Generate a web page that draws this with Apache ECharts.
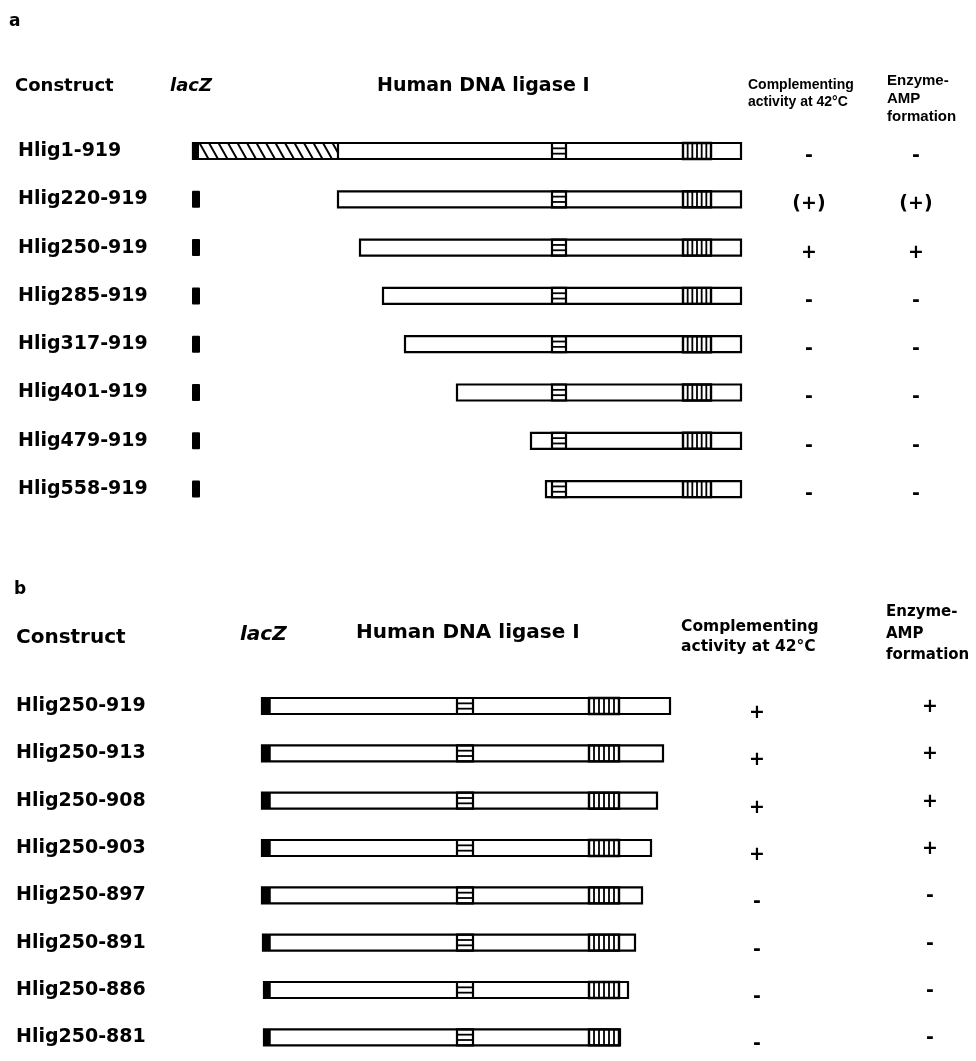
<!DOCTYPE html>
<html><head><meta charset="utf-8">
<script src="https://cdn.jsdelivr.net/npm/echarts@6/dist/echarts.min.js"></script>
<style>html,body{margin:0;padding:0;background:#fff}#c{width:976px;height:1061px}</style>
</head><body><div id="c"></div>
<script>
// ---------- Panel a data (schematic positions) ----------
const constructsA = ['Hlig1-919','Hlig220-919','Hlig250-919','Hlig285-919','Hlig317-919','Hlig401-919','Hlig479-919','Hlig558-919'];
const barStartA = [193, 338, 360, 383, 405, 457, 531, 546];
const barEndA   = [741, 741, 741, 741, 741, 741, 741, 741];
const complementA = ['-', '(+)', '+', '-', '-', '-', '-', '-'];
const enzymeAmpA  = ['-', '(+)', '+', '-', '-', '-', '-', '-'];
const lacZA = [192, 200];        // separate lacZ block
const hatchEndA = 338;           // hatched N-terminal region of Hlig1-919
const eBoxA = [552, 566];
const stripeBoxA = [683, 711];

// ---------- Panel b data ----------
const constructsB = ['Hlig250-919','Hlig250-913','Hlig250-908','Hlig250-903','Hlig250-897','Hlig250-891','Hlig250-886','Hlig250-881'];
const barStartB = [262, 262, 262, 262, 262, 263, 264, 264];
const barEndB   = [670, 663, 657, 651, 642, 635, 628, 620];
const complementB = ['+', '+', '+', '+', '-', '-', '-', '-'];
const enzymeAmpB  = ['+', '+', '+', '+', '-', '-', '-', '-'];
const lacZB = [262, 270];
const eBoxB = [457, 473];
const stripeBoxB = [589, 619];

const BAR_H = 16;
const BIG = 'DejaVu Sans';

function constructRenderer(panel) {
  return function (params, api) {
    const row = api.value(0);
    const idx = params.dataIndex;
    const X = v => api.coord([v, row])[0];
    const y = api.coord([0, row])[1];
    const top = y - BAR_H / 2, bot = y + BAR_H / 2;
    const x0 = X(api.value(1)), x1 = X(api.value(2));
    const kids = [];
    const line = (ax, ay, bx, by, w) => kids.push({type: 'line', shape: {x1: ax, y1: ay, x2: bx, y2: by}, style: {stroke: '#000', lineWidth: w}});
    kids.push({type: 'rect', shape: {x: x0, y: top, width: x1 - x0, height: BAR_H}, style: {fill: '#fff', stroke: null}});
    let eBox, sBox;
    if (panel === 'a') {
      eBox = eBoxA; sBox = stripeBoxA;
      if (idx === 0) {
        const lz = X(lacZA[1]) - 1;
        kids.push({type: 'rect', shape: {x: x0, y: top, width: lz - x0, height: BAR_H}, style: {fill: '#000'}});
        const hs = lz, he = X(hatchEndA);
        const D = 9, step = 9.5;
        for (let sx = hs - D; sx < he; sx += step) {
          let t0 = Math.max(0, (hs - sx) / D), t1 = Math.min(1, (he - sx) / D);
          if (t1 <= t0) continue;
          line(sx + D * t0, top + BAR_H * t0, sx + D * t1, top + BAR_H * t1, 2);
        }
        line(he, top, he, bot, 2.2);
      } else {
        const lx0 = X(lacZA[0]), lx1 = X(lacZA[1]);
        kids.push({type: 'rect', shape: {x: lx0, y: top - 0.5, width: lx1 - lx0, height: BAR_H + 1, r: 1}, style: {fill: '#000'}});
      }
    } else {
      eBox = eBoxB; sBox = stripeBoxB;
      const lx1 = X(lacZB[1]);
      kids.push({type: 'rect', shape: {x: x0, y: top, width: lx1 - x0, height: BAR_H}, style: {fill: '#000'}});
      line(lx1, top, lx1, bot, 1.5);
    }
    // E-box motif (boxed horizontal bars)
    const e0 = X(eBox[0]), e1 = X(eBox[1]);
    kids.push({type: 'rect', shape: {x: e0, y: top, width: e1 - e0, height: BAR_H}, style: {fill: '#fff', stroke: '#000', lineWidth: 2.2}});
    line(e0, top + BAR_H / 3, e1, top + BAR_H / 3, 1.8);
    line(e0, top + 2 * BAR_H / 3, e1, top + 2 * BAR_H / 3, 1.8);
    // Striped motif (vertical bars)
    const s0 = X(sBox[0]), s1 = Math.min(X(sBox[1]), x1);
    kids.push({type: 'rect', shape: {x: s0, y: top, width: s1 - s0, height: BAR_H}, style: {fill: '#fff', stroke: '#000', lineWidth: 2.4}});
    const n = 6;
    for (let k = 1; k < n; k++) {
      const xx = s0 + (X(sBox[1]) - s0) * k / n;
      if (xx < x1 - 1) line(xx, top, xx, bot, 1.8);
    }
    // outline on top
    kids.push({type: 'rect', shape: {x: x0, y: top, width: x1 - x0, height: BAR_H}, style: {fill: null, stroke: '#000', lineWidth: 2.2}});
    return {type: 'group', children: kids};
  };
}

function resultRenderer(comp, amp, colX, dy) {
  return function (params, api) {
    const row = api.value(0);
    const i = params.dataIndex;
    const p1 = api.coord([colX[0], row]);
    const p2 = api.coord([colX[1], row]);
    const mk = (p, t, d) => ({type: 'text', x: p[0], y: p[1] + d, style: {text: t, font: 'bold 19px "DejaVu Sans"', fill: '#000', align: 'center', verticalAlign: 'middle'}});
    return {type: 'group', children: [mk(p1, comp[i], dy[0]), mk(p2, amp[i], dy[1])]};
  };
}

const chart = echarts.init(document.getElementById('c'), null, {renderer: 'canvas'});

const txt = (t, x, y, font, align) => ({type: 'text', x: x, y: y, style: {text: t, font: font, fill: '#000', align: align || 'left', verticalAlign: 'middle'}});

const yAxisCommon = {
  type: 'category', inverse: true,
  axisLine: {show: false}, axisTick: {show: false}, splitLine: {show: false},
};

chart.setOption({
  backgroundColor: '#fff',
  animation: false,
  grid: [
    {left: 0, right: 0, top: 126.85, height: 386.4},
    {left: 0, right: 0, top: 682.35, height: 394.4}
  ],
  xAxis: [
    {gridIndex: 0, type: 'value', min: 0, max: 976, show: false},
    {gridIndex: 1, type: 'value', min: 0, max: 976, show: false}
  ],
  yAxis: [
    Object.assign({gridIndex: 0, data: constructsA,
      axisLabel: {inside: true, margin: 18, align: 'left', verticalAlign: 'middle', color: '#000', fontFamily: BIG, fontWeight: 'bold', fontSize: 19, padding: [6, 0, 0, 0]}}, yAxisCommon),
    Object.assign({gridIndex: 1, data: constructsB,
      axisLabel: {inside: true, margin: 16, align: 'left', verticalAlign: 'middle', color: '#000', fontFamily: BIG, fontWeight: 'bold', fontSize: 19, padding: [0, 0, 10, 0]}}, yAxisCommon)
  ],
  series: [
    {type: 'custom', xAxisIndex: 0, yAxisIndex: 0, renderItem: constructRenderer('a'),
      encode: {x: [1, 2], y: 0},
      data: constructsA.map((c, i) => [i, barStartA[i], barEndA[i]])},
    {type: 'custom', xAxisIndex: 1, yAxisIndex: 1, renderItem: constructRenderer('b'),
      encode: {x: [1, 2], y: 0},
      data: constructsB.map((c, i) => [i, barStartB[i], barEndB[i]])},
    {type: 'custom', xAxisIndex: 0, yAxisIndex: 0, renderItem: resultRenderer(complementA, enzymeAmpA, [809, 916], [5, 5]),
      encode: {y: 0}, data: constructsA.map((c, i) => [i])},
    {type: 'custom', xAxisIndex: 1, yAxisIndex: 1, renderItem: resultRenderer(complementB, enzymeAmpB, [757, 930], [7, 1]),
      encode: {y: 0}, data: constructsB.map((c, i) => [i])}
  ],
  graphic: [
    txt('a', 9, 22, 'bold 17px "DejaVu Sans"'),
    txt('Construct', 15, 86, 'bold 18px "DejaVu Sans"'),
    txt('lacZ', 170, 86, 'italic bold 18px "DejaVu Sans"'),
    txt('Human DNA ligase I', 377, 86, 'bold 19px "DejaVu Sans"'),
    txt('Complementing', 748, 85, 'bold 14px "Liberation Sans"'),
    txt('activity at 42°C', 748, 102, 'bold 14px "Liberation Sans"'),
    txt('Enzyme-', 887, 81, 'bold 15px "Liberation Sans"'),
    txt('AMP', 887, 99, 'bold 15px "Liberation Sans"'),
    txt('formation', 887, 117, 'bold 15px "Liberation Sans"'),

    txt('b', 14, 590, 'bold 17px "DejaVu Sans"'),
    txt('Construct', 16, 638, 'bold 20px "DejaVu Sans"'),
    txt('lacZ', 240, 635, 'italic bold 20px "DejaVu Sans"'),
    txt('Human DNA ligase I', 356, 633, 'bold 20px "DejaVu Sans"'),
    txt('Complementing', 681, 627, 'bold 15.5px "DejaVu Sans"'),
    txt('activity at 42°C', 681, 647, 'bold 15.5px "DejaVu Sans"'),
    txt('Enzyme-', 886, 612, 'bold 15px "DejaVu Sans"'),
    txt('AMP', 886, 634, 'bold 15px "DejaVu Sans"'),
    txt('formation', 886, 655, 'bold 15px "DejaVu Sans"')
  ]
});
</script>
</body></html>
